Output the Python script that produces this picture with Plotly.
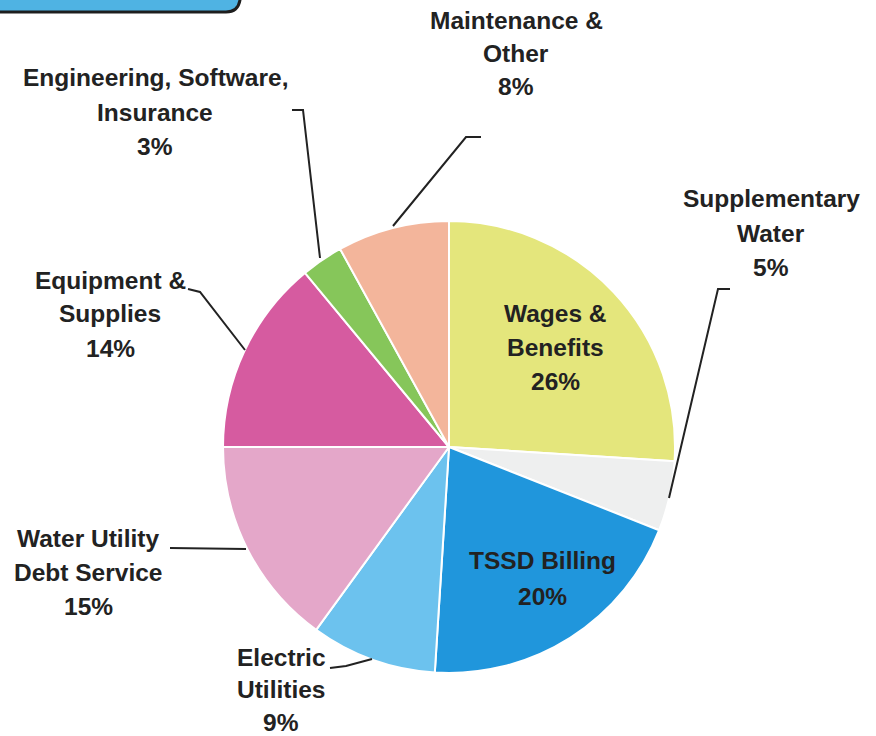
import plotly.graph_objects as go

W, H = 876, 736

# Budget categories, clockwise from 12 o'clock
categories = [
    "Wages & Benefits",
    "Supplementary Water",
    "TSSD Billing",
    "Electric Utilities",
    "Water Utility Debt Service",
    "Equipment & Supplies",
    "Engineering, Software, Insurance",
    "Maintenance & Other",
]
shares = [26, 5, 20, 9, 15, 14, 3, 8]
colors = ["#e4e67c", "#eeefef", "#2096dc", "#6cc2ee", "#e4a7c9",
          "#d65ba0", "#86c65a", "#f3b59b"]

# Label lines (the percentage line is appended from shares)
label_lines = {
    "Wages & Benefits": ["Wages &", "Benefits"],
    "Supplementary Water": ["Supplementary", "Water"],
    "TSSD Billing": ["TSSD Billing"],
    "Electric Utilities": ["Electric", "Utilities"],
    "Water Utility Debt Service": ["Water Utility", "Debt Service"],
    "Equipment & Supplies": ["Equipment &", "Supplies"],
    "Engineering, Software, Insurance": ["Engineering, Software,", "Insurance"],
    "Maintenance & Other": ["Maintenance &", "Other"],
}


def px(x):
    return x / W


def py(y):
    return 1 - y / H


cx, cy, r = 449, 447, 226

fig = go.Figure(go.Pie(
    labels=categories,
    values=shares,
    sort=False,
    direction="clockwise",
    rotation=0,
    textinfo="none",
    hoverinfo="label+percent",
    marker=dict(colors=colors, line=dict(color="white", width=2)),
    domain=dict(x=[px(cx - r), px(cx + r)], y=[py(cy + r), py(cy - r)]),
    showlegend=False,
))

# Label block centres (x, y of first line), line pitch in pixels
label_pos = {
    "Wages & Benefits": (555, 313, 34),
    "Supplementary Water": (771, 198, 35),
    "TSSD Billing": (542, 560, 36),
    "Electric Utilities": (281, 657, 32.5),
    "Water Utility Debt Service": (88, 538, 34),
    "Equipment & Supplies": (110, 280, 34),
    "Engineering, Software, Insurance": (155, 78, 34),
    "Maintenance & Other": (516, 20, 33),
}

annotations = []
for cat, val in zip(categories, shares):
    x0, y0, step = label_pos[cat]
    lines = label_lines[cat] + [f"{val}%"]
    for i, line in enumerate(lines):
        annotations.append(dict(
            x=px(x0), y=py(y0 + i * step), xref="paper", yref="paper",
            text=f"<b>{line}</b>", showarrow=False,
            xanchor="center", yanchor="middle",
            font=dict(family="Liberation Sans, Arial, sans-serif", size=24.5, color="#222222"),
        ))

# Leader lines from labels to slices
leaders = [
    [(481, 137), (466, 137), (393, 226)],
    [(292, 110), (303, 110), (320, 258)],
    [(188, 289), (200, 292), (245, 350)],
    [(170, 548), (246, 549)],
    [(330, 668), (346, 666), (372, 659)],
    [(730, 289), (718, 289), (669, 498)],
]
shapes = []
for pts in leaders:
    path = "M " + " L ".join(f"{px(x):.5f},{py(y):.5f}" for x, y in pts)
    shapes.append(dict(type="path", path=path, xref="paper", yref="paper",
                       line=dict(color="#222222", width=2)))

# Banner edge along the top-left corner
banner = (f"M {px(-10)},{py(-40)} L {px(-10)},{py(12)} L {px(226)},{py(12)} "
          f"Q {px(238)},{py(12)} {px(240)},{py(0)} L {px(245)},{py(-40)} Z")
shapes.append(dict(type="path", path=banner, xref="paper", yref="paper",
                   fillcolor="#4fb3e3", line=dict(color="#1e1e1e", width=3)))

fig.update_layout(
    width=W, height=H,
    margin=dict(l=0, r=0, t=0, b=0),
    paper_bgcolor="white",
    plot_bgcolor="white",
    annotations=annotations,
    shapes=shapes,
)

fig.write_html("out.html")
